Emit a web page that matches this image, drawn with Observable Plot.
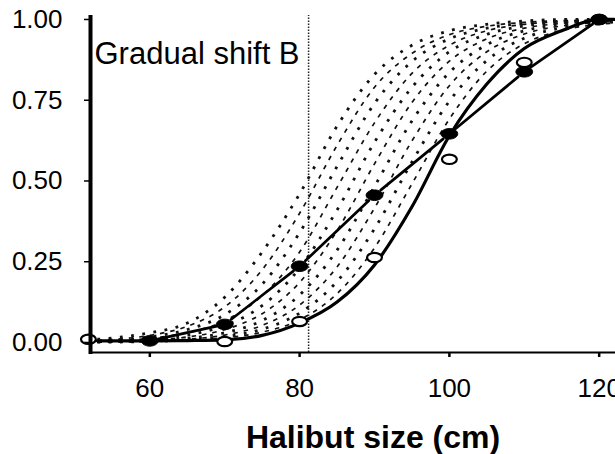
<!DOCTYPE html>
<html>
<head>
<meta charset="utf-8">
<script src="https://cdn.jsdelivr.net/npm/d3@7"></script>
<script src="https://cdn.jsdelivr.net/npm/@observablehq/plot@0.6"></script>
<style>
  html, body { margin: 0; padding: 0; background: #fff; }
</style>
</head>
<body>
<div id="chart"></div>
<script>
// Halibut size (cm) at which the curves are tabulated
const sizes = [53, 60, 65, 70, 75, 80, 85, 90, 95, 100, 105, 110, 115, 120, 122];

// Gradual shift of the selectivity curve, earliest (left) to latest (right)
const curve0 = [0.01, 0.03, 0.06, 0.14, 0.28, 0.46, 0.67, 0.83, 0.92, 0.965, 0.985, 0.995, 1.0, 1.0, 1.0];
const curve1 = [0.007, 0.022, 0.05, 0.11, 0.225, 0.40, 0.61, 0.79, 0.895, 0.953, 0.979, 0.991, 0.996, 0.998, 0.999];
const curve2 = [0.005, 0.017, 0.04, 0.086, 0.18, 0.34, 0.545, 0.74, 0.87, 0.94, 0.973, 0.988, 0.995, 0.998, 0.999];
const curve3 = [0.004, 0.013, 0.03, 0.067, 0.145, 0.28, 0.48, 0.68, 0.833, 0.92, 0.965, 0.985, 0.993, 0.997, 0.998];
const curve4 = [0.003, 0.01, 0.023, 0.052, 0.114, 0.23, 0.41, 0.62, 0.79, 0.90, 0.954, 0.98, 0.991, 0.996, 0.997];
const curve5 = [0.002, 0.008, 0.017, 0.04, 0.089, 0.186, 0.346, 0.553, 0.743, 0.871, 0.94, 0.973, 0.988, 0.995, 0.996];
const curve6 = [0.002, 0.006, 0.013, 0.03, 0.068, 0.147, 0.286, 0.483, 0.686, 0.836, 0.922, 0.965, 0.985, 0.993, 0.995];
const curve7 = [0.001, 0.004, 0.01, 0.023, 0.053, 0.116, 0.234, 0.416, 0.624, 0.795, 0.90, 0.955, 0.98, 0.991, 0.994];
const curve8 = [0.001, 0.003, 0.008, 0.018, 0.041, 0.091, 0.189, 0.352, 0.559, 0.747, 0.873, 0.942, 0.974, 0.989, 0.992];
const curve9 = [0.001, 0.003, 0.006, 0.014, 0.032, 0.07, 0.151, 0.293, 0.491, 0.692, 0.84, 0.925, 0.966, 0.985, 0.989];
const shiftCurves = [curve0, curve1, curve2, curve3, curve4, curve5, curve6, curve7, curve8, curve9];

// Final (fitted) curve, solid
const fitted = [0.005, 0.005, 0.006, 0.008, 0.022, 0.06, 0.125, 0.24, 0.42, 0.64, 0.80, 0.91, 0.965, 1.0, 1.0];

// Observed proportions
const filledSizes = [60, 70, 80, 90, 100, 110, 120];
const filledProps = [0.005, 0.056, 0.236, 0.456, 0.646, 0.838, 1.0];
const openSizes = [51.8, 70, 80, 90, 100, 110, 120];
const openProps = [0.01, 0.003, 0.065, 0.263, 0.567, 0.867, 1.0];

// Reference size
const refSize = 81.2;

const xTicks = [60, 80, 100, 120];
const yTicks = [0, 0.25, 0.5, 0.75, 1];
const panelLabel = "Gradual shift B";
const xTitle = "Halibut size (cm)";

const xDomain = [52.08, 122.18];
const yDomain = [-0.031, 1.0123];

// long-format table of the shifting curves
const shiftRows = shiftCurves.flatMap((c, k) =>
  c.map((p, i) => ({size: sizes[i], p, k})));
const fittedRows = fitted.map((p, i) => ({size: sizes[i], p}));
const filled = filledSizes.map((s, i) => ({size: s, p: filledProps[i]}));
const open = openSizes.map((s, i) => ({size: s, p: openProps[i]}));
const filledSegs = filled.slice(1).map((d, i) => ({x1: filled[i].size, y1: filled[i].p, x2: d.size, y2: d.p}));

// flattened ellipse marker
const ellipse = {
  draw(ctx, size) {
    const r = Math.sqrt(size / Math.PI), a = r * 1.35, b = r * 0.85, k = 0.5523;
    ctx.moveTo(a, 0);
    ctx.bezierCurveTo(a, k * b, k * a, b, 0, b);
    ctx.bezierCurveTo(-k * a, b, -a, k * b, -a, 0);
    ctx.bezierCurveTo(-a, -k * b, -k * a, -b, 0, -b);
    ctx.bezierCurveTo(k * a, -b, a, -k * b, a, 0);
    ctx.closePath();
  }
};

const chart = Plot.plot({
  width: 615,
  height: 454,
  marginLeft: 90,
  marginRight: 0,
  marginTop: 15,
  marginBottom: 102,
  x: {domain: xDomain},
  y: {domain: yDomain},
  style: {fontFamily: "'Liberation Sans', Arial, sans-serif", background: "#fff", color: "#000"},
  marks: [
    // dotted members of the family
    Plot.line(shiftRows.filter(d => d.k % 2 === 0), {
      x: "size", y: "p", z: "k", curve: "monotone-x",
      stroke: "#111", strokeWidth: 2.8, strokeDasharray: "2.8 8.5", strokeLinecap: "butt"
    }),
    // dashed members of the family
    Plot.line(shiftRows.filter(d => d.k % 2 === 1), {
      x: "size", y: "p", z: "k", curve: "monotone-x",
      stroke: "#111", strokeWidth: 1.7, strokeDasharray: "4.5 6", strokeLinecap: "butt"
    }),
    // reference size
    Plot.ruleX([refSize], {y1: yDomain[0], y2: yDomain[1], stroke: "#222", strokeWidth: 1.5, strokeDasharray: "1.5 1.5"}),
    // fitted curve
    Plot.line(fittedRows, {x: "size", y: "p", curve: "monotone-x", stroke: "#000", strokeWidth: 3.2}),
    // observed (filled) connected with gaps at the points
    Plot.arrow(filledSegs, {x1: "x1", y1: "y1", x2: "x2", y2: "y2", headLength: 0, inset: 8, stroke: "#000", strokeWidth: 2.7}),
    Plot.dot(open, {x: "size", y: "p", symbol: ellipse, r: 5.5, fill: "#fff", stroke: "#000", strokeWidth: 2.2}),
    Plot.dot(filled, {x: "size", y: "p", symbol: ellipse, r: 6.2, fill: "#000", stroke: "#000", strokeWidth: 1}),
    // axes
    Plot.ruleY([yDomain[0]], {x1: xDomain[0], x2: xDomain[1], stroke: "#000", strokeWidth: 2}),
    Plot.ruleX([xDomain[0]], {y1: yDomain[0] - 0.006, y2: yDomain[1], stroke: "#000", strokeWidth: 4}),
    Plot.axisX({ticks: xTicks, tickSize: 5, tickPadding: 21, strokeWidth: 2.5, fontSize: 26, label: null}),
    Plot.axisY({ticks: yTicks, tickSize: 6, tickPadding: 22, strokeWidth: 1.5, fontSize: 26, label: null,
      tickFormat: d => d.toFixed(2)}),
    Plot.text([panelLabel], {frameAnchor: "top-left", textAnchor: "start", lineAnchor: "top", dx: 4, dy: 26, fontSize: 31, fill: "#000"}),
    Plot.text([xTitle], {frameAnchor: "bottom", lineAnchor: "middle", dx: 20, dy: 85, fontSize: 32, fontWeight: "bold", fill: "#000"})
  ]
});

document.getElementById("chart").appendChild(chart);
</script>
</body>
</html>
